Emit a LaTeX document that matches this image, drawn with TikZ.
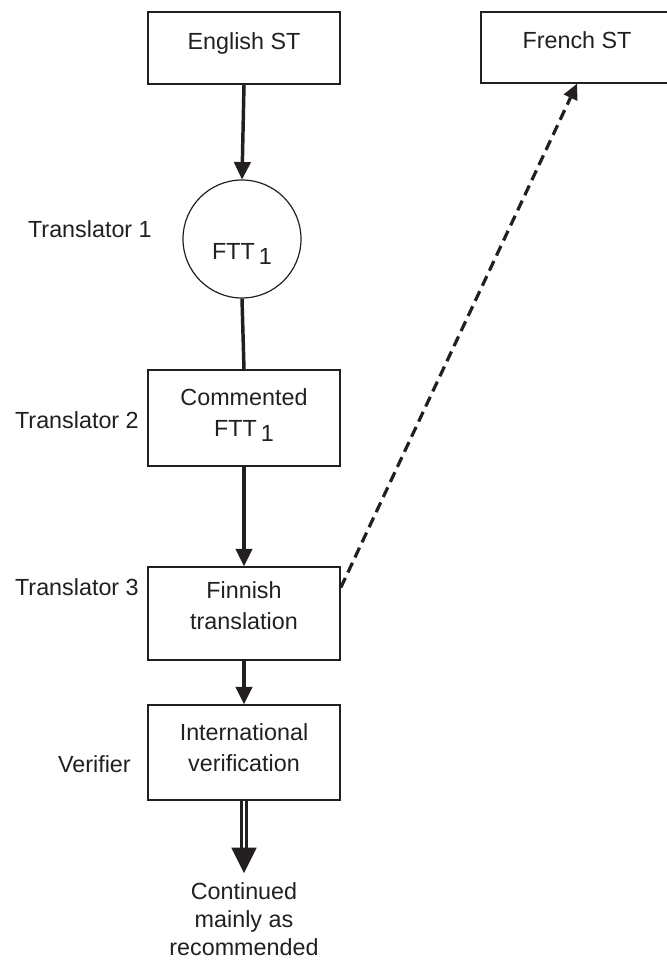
\documentclass[tikz,border=0pt]{standalone}
\usepackage{fontspec}
\setmainfont{Liberation Sans}
\usetikzlibrary{arrows.meta}
\definecolor{ink}{RGB}{35,31,32}
% puntal sin ancho que sube el texto dentro de su caja
\newcommand\textlift[1]{\rule[-#1]{0pt}{#1}}
\newcommand\ftt{FTT\,\raisebox{-3.75pt}{1}}

\begin{document}
\begin{tikzpicture}
  [x=0.75pt,y=-0.75pt,every node/.style={text=ink,font=\fontsize{17.5}{23.25}\selectfont},
   box/.style={draw=ink,line width=1.2pt,minimum width=144pt,inner sep=0pt,align=center},
   stage/.style={anchor=base east,inner sep=0pt},
   flow/.style={draw=ink,line width=2.6pt,-{Triangle[width=13pt,length=13pt,line width=0pt]}},
   link/.style={draw=ink,line width=2.6pt},
   back/.style={draw=ink,line width=2.4pt,dash pattern=on 8pt off 4.5pt,-{Triangle[width=11.5pt,length=11.5pt,line width=0pt]}},
   dbl/.style={draw=ink,double,line width=2.4pt,double distance=1.8pt}]
  \useasboundingbox (0,0) rectangle (667,972);

  % Textos fuente arriba
  \node[box,minimum height=54pt] (english) at (244,48) {English ST\textlift{10.5pt}};
  \node[box,minimum height=53.25pt] (french) at (577,47.5) {French ST\textlift{11.25pt}};

  % Cadena de pasos
  \node[draw=ink,line width=0.9pt,circle,minimum size=88.5pt,inner sep=0pt] (ftt) at (242,239)
    {\rule{0pt}{34.5pt}\ftt};
  \node[box,minimum height=72pt] (comm) at (244,418) {Commented\\\ftt\textlift{7.5pt}};
  \node[box,minimum height=69.75pt] (finn) at (244,613.5) {Finnish\\translation\textlift{12pt}};
  \node[box,minimum height=71.25pt] (verif) at (244,752.5) {International\\verification\textlift{7.5pt}};
  \node[inner xsep=0pt,inner ysep=7pt,align=center,anchor=north,
        font=\fontsize{17.5}{21}\selectfont] (cont) at (244,873)
    {Continued\\mainly as\\recommended};

  % Roles a la izquierda
  \node[stage] (t1) at (152,237) {Translator 1};
  \node[stage] (t2) at (139,428) {Translator 2};
  \node[stage] (t3) at (139,595) {Translator 3};
  \node[stage] (ver) at (131,772) {Verifier};

  % Flechas
  \draw[flow] (english.south) -- (ftt.north);
  \draw[link] (ftt.south) -- (comm.north);
  \foreach \from/\to in {comm/finn, finn/verif}
    \draw[flow] (\from.south) -- (\to.north);
  \draw[back] (finn.15) -- (french.south);

  \coordinate (head) at (244,848);
  \draw[dbl] (verif.south) -- (head);
  \draw[draw=ink,fill=ink,line width=0.1pt,-{Triangle[width=19pt,length=19pt,line width=0pt]}] (head) -- (cont.north);
\end{tikzpicture}
\end{document}
